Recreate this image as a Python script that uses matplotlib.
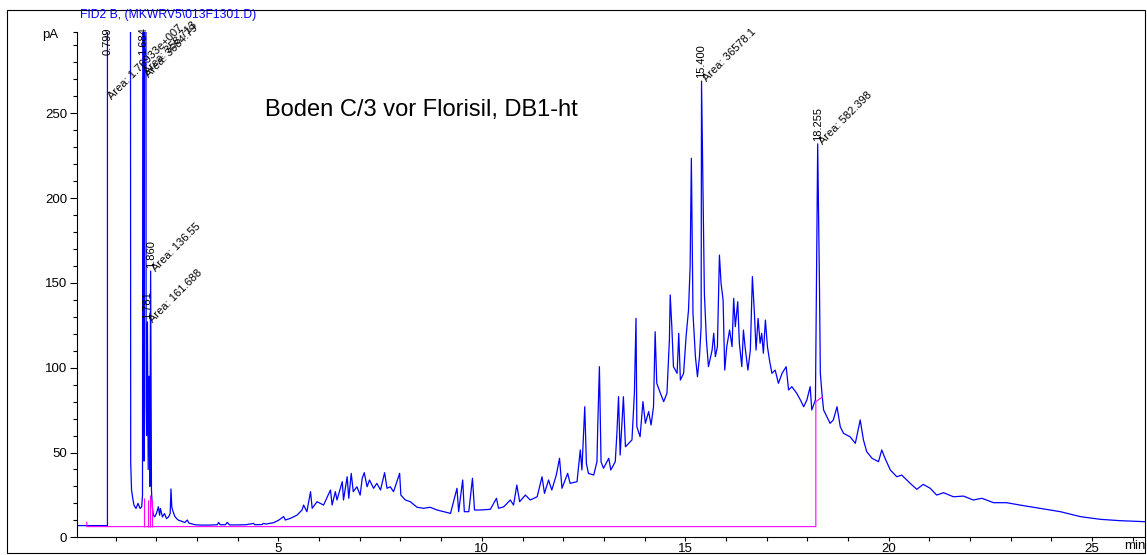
import matplotlib.pyplot as plt
import numpy as np
from matplotlib.ticker import MultipleLocator, FixedLocator

plt.rcParams['font.family'] = ['Liberation Sans', 'DejaVu Sans']

# FID2 B trace, (min, pA), read section by section
solvent = [(0.05, 6.9), (0.798, 6.9), (0.799, 1000), (1.35, 1000), (1.37, 44),
           (1.39, 28), (1.42, 23), (1.45, 19), (1.50, 17), (1.55, 20), (1.60, 17),
           (1.64, 18)]

early_peaks = [(1.66, 25), (1.684, 1000), (1.70, 45), (1.73, 1000), (1.75, 80),
               (1.76, 60), (1.781, 127), (1.80, 40), (1.82, 95), (1.84, 30),
               (1.860, 157), (1.88, 28), (1.90, 18), (1.93, 13), (1.96, 12)]

quiet = [(2.00, 14), (2.05, 18), (2.08, 13), (2.10, 17), (2.15, 12), (2.20, 14),
         (2.25, 11), (2.30, 12), (2.34, 14), (2.36, 28.5), (2.38, 18), (2.40, 16),
         (2.45, 12.5), (2.50, 11), (2.55, 10), (2.62, 9.5), (2.70, 8.7), (2.76, 10.2),
         (2.80, 8.4), (2.86, 8.0), (2.95, 7.4), (3.1, 7.2), (3.3, 7.2), (3.5, 7.4),
         (3.53, 8.8), (3.57, 7.4), (3.7, 7.4), (3.74, 8.8), (3.8, 7.3), (4.0, 7.3),
         (4.2, 7.4), (4.39, 8.2), (4.42, 7.4), (4.6, 7.5), (4.63, 8.2), (4.7, 7.8)]

hump_low = [(4.80, 8.3), (4.88, 8.6), (5.00, 10), (5.13, 12.2), (5.17, 10.2),
            (5.30, 11.2), (5.46, 13.1), (5.58, 16.1), (5.62, 19), (5.70, 15.1),
            (5.79, 26.9), (5.83, 17.1), (5.95, 21), (6.11, 19), (6.28, 27.9),
            (6.32, 19), (6.40, 26.9), (6.44, 22), (6.57, 32.8), (6.60, 22),
            (6.69, 35.7), (6.73, 23), (6.79, 37.7), (6.84, 26.9), (6.93, 29.8),
            (7.01, 24.9), (7.06, 34.8), (7.11, 38.1), (7.18, 29.8), (7.24, 33.8),
            (7.34, 28.9), (7.42, 31.8), (7.51, 27.9), (7.61, 38.1), (7.67, 28.9),
            (7.75, 29.8), (7.83, 26.9), (7.98, 37.7), (8.01, 24.9), (8.12, 22),
            (8.24, 21), (8.41, 17.7), (8.57, 17.1), (8.73, 17.7), (8.90, 16.1),
            (9.06, 15.1), (9.23, 14.1), (9.39, 28.9), (9.43, 15.1), (9.53, 33.8),
            (9.57, 15.1), (9.68, 15.1), (9.77, 34.8), (9.82, 16.1), (9.96, 16.1)]

rise = [(10.21, 16.5), (10.36, 23), (10.41, 17.1), (10.54, 18), (10.70, 22),
        (10.78, 19), (10.86, 30.8), (10.93, 21), (11.07, 24.9), (11.19, 22),
        (11.36, 23.9), (11.48, 35.7), (11.54, 25.9), (11.64, 33.8), (11.72, 27.9),
        (11.83, 36.7), (11.91, 46.6), (11.97, 28.9), (12.11, 37.7), (12.17, 31.8),
        (12.34, 32.8), (12.42, 51.5), (12.46, 39.7), (12.53, 77), (12.57, 43.6),
        (12.62, 37.7), (12.75, 36.7), (12.83, 44.6), (12.85, 66.2), (12.89, 100.6),
        (12.93, 44.6), (12.99, 40.7), (13.12, 46.6), (13.17, 39.7), (13.28, 44.6),
        (13.32, 61.3), (13.36, 82.9), (13.40, 48.5), (13.48, 82.9), (13.53, 53.4),
        (13.61, 55.4), (13.69, 57.4), (13.75, 84.9), (13.79, 129.1), (13.81, 65.2),
        (13.89, 59.3), (13.96, 80), (14.02, 67.2), (14.10, 74.1), (14.16, 66.2),
        (14.22, 77), (14.26, 121.2), (14.30, 90.8), (14.39, 84.9), (14.47, 80),
        (14.55, 84.9), (14.61, 116.3), (14.63, 142.9), (14.67, 124.2), (14.71, 100.6),
        (14.80, 96.7), (14.84, 120.3)]

main_hump = [(14.88, 92.7), (14.96, 96.7), (15.02, 118.3), (15.08, 134), (15.12, 159.5),
             (15.15, 223.5), (15.19, 132), (15.25, 106.5), (15.30, 94.7), (15.35, 106.5),
             (15.39, 124.2), (15.400, 269), (15.47, 143.9), (15.52, 116.3), (15.57, 100.6),
             (15.66, 110.4), (15.70, 120.3), (15.74, 106.5), (15.79, 112.4), (15.84, 166.4),
             (15.88, 149.8), (15.93, 139.9), (15.97, 98.6), (16.02, 112.4), (16.09, 122.2),
             (16.15, 112.4), (16.19, 140.9), (16.23, 124.2), (16.29, 138.9), (16.33, 114.4),
             (16.39, 100.6), (16.43, 122.2), (16.47, 112.4), (16.54, 98.6), (16.60, 110.4),
             (16.65, 153.7), (16.70, 132), (16.74, 110.4), (16.79, 129.1), (16.84, 114.4),
             (16.88, 120.3), (16.92, 108.5), (16.97, 128.1), (17.02, 112.4), (17.07, 104.5),
             (17.13, 96.7), (17.21, 98.6), (17.29, 90.8), (17.38, 96.7), (17.48, 100.6),
             (17.54, 86.9), (17.62, 88.8), (17.74, 84.9), (17.83, 81), (17.91, 77),
             (17.99, 81), (18.07, 88.8), (18.11, 75.1), (18.20, 81), (18.24, 195),
             (18.255, 232), (18.30, 145.8), (18.32, 96.7), (18.36, 84.9), (18.40, 75.1),
             (18.48, 71.1)]

tail = [(18.56, 67.2), (18.64, 69.2), (18.73, 77), (18.81, 65.2), (18.89, 61.3),
        (19.05, 59.3), (19.18, 55.4), (19.30, 69.2), (19.38, 57.4), (19.46, 50.5),
        (19.59, 46.6), (19.75, 44.6), (19.83, 51.5), (19.91, 46.6), (20.04, 39.7),
        (20.20, 35.7), (20.32, 36.7), (20.53, 31.8), (20.69, 28.3), (20.85, 31.2),
        (21.02, 28.9), (21.18, 24.9), (21.35, 26.3), (21.59, 23.9), (21.84, 24.3),
        (22.08, 22), (22.29, 23), (22.58, 20.4), (22.9, 20.4), (23.23, 19),
        (23.72, 17.1), (24.22, 15.1), (24.71, 12.2), (25.20, 10.6), (25.69, 9.8),
        (26.31, 9.2)]

# integration baseline and peak drop lines
baseline = [(0.29, 8.8), (0.29, 6.3), (18.21, 6.3), (18.21, 80), (18.37, 82.7)]
drop_times = [1.70, 1.785, 1.84, 1.90]
drop_heights = [23, 22, 25, 22]

# labelled peaks: retention time, apex (pA), area text
peak_rt = [0.799, 1.684, 1.781, 1.860, 15.400, 18.255]
peak_top = [283, 283, 127, 157, 269, 232]
peak_area = [None, None, '161.688', '136.55', '36578.1', '582.398']

# area labels of the off-scale peaks sit up at the top
top_areas = [(0.92, 258, '1.76933e+007'), (1.80, 272.5, '358.713'), (1.83, 271, '3684.79')]

W, H = 1147, 555
fig = plt.figure(figsize=(W / 100, H / 100), dpi=100)
fig.add_artist(plt.Rectangle((7 / W, 2 / H), 1138 / W, 543 / H, transform=fig.transFigure,
                             fill=False, edgecolor='black', linewidth=0.8))

ax = fig.add_axes([77 / W, 17.7 / H, 1068 / W, 505.4 / H])
ax.patch.set_alpha(0)

trace = np.array(solvent + early_peaks + quiet + hump_low + rise + main_hump + tail)
ax.plot(trace[:, 0], trace[:, 1], color='#0000ff', linewidth=0.9)

base = np.array(baseline)
ax.plot(base[:, 0], base[:, 1], color='#ff00ff', linewidth=0.8)
ax.vlines(drop_times, 6.3, drop_heights, color='#ff00ff', linewidth=0.8)

for rt, top, area in zip(peak_rt, peak_top, peak_area):
    ax.annotate(f'{rt:.3f}', xy=(rt, top), xytext=(0, 2), textcoords='offset points',
                rotation=90, ha='center', va='bottom', fontsize=8)
    if area is not None:
        ax.annotate(f'Area: {area}', xy=(rt, top), xytext=(4, -1), textcoords='offset points',
                    rotation=45, rotation_mode='anchor', ha='left', va='baseline', fontsize=8)
for x, y, area in top_areas:
    ax.text(x, y, f'Area: {area}', rotation=45, rotation_mode='anchor',
            ha='left', va='baseline', fontsize=8)

ax.text(4.68, 252, 'Boden C/3 vor Florisil, DB1-ht', fontsize=17, va='center')

ax.set_xlim(0.05, 26.30)
ax.set_ylim(0, 298)
ax.spines['top'].set_visible(False)
ax.spines['right'].set_visible(False)
ax.spines['left'].set_linewidth(0.8)
ax.spines['bottom'].set_linewidth(0.8)

ax.set_xticks([5, 10, 15, 20, 25])
ax.xaxis.set_minor_locator(MultipleLocator(1))
ax.set_yticks([0, 50, 100, 150, 200, 250])
ax.yaxis.set_minor_locator(FixedLocator([v for v in range(10, 300, 10) if v % 50] + [298]))
ax.tick_params(axis='x', which='both', direction='out', length=3, width=0.8, pad=1, labelsize=9.5)
ax.tick_params(axis='y', which='major', direction='out', length=5, width=0.8, pad=2, labelsize=9.5)
ax.tick_params(axis='y', which='minor', direction='out', length=3, width=0.8)

fig.text(50 / W, 1 - 35 / H, 'pA', ha='center', va='center', fontsize=9.5)
fig.text(1124 / W, 1 - 546 / H, 'min', ha='left', va='center', fontsize=9.5)
fig.text(80 / W, 1 - 15 / H, 'FID2 B, (MKWRV5\\013F1301.D)', ha='left', va='center',
         fontsize=8.7, color='#0000ff')

fig.savefig('out.png', dpi=100)
